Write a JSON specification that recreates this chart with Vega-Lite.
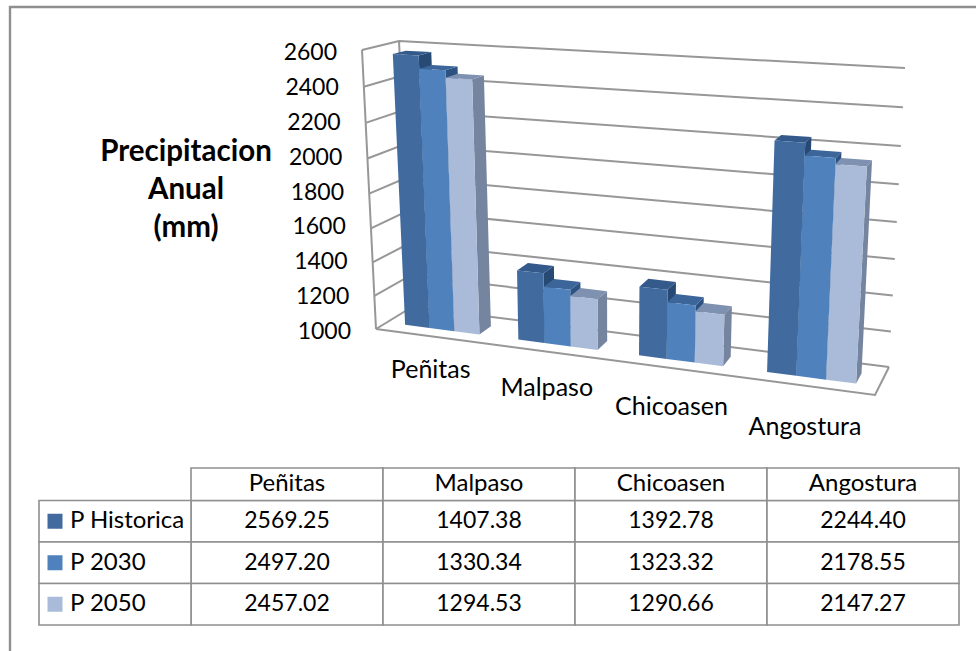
{
"$schema":"https://vega.github.io/schema/vega-lite/v6.json",
"autosize":{"type":"none"},
"padding":{"left":10,"top":7,"right":0,"bottom":0},
"width":990,"height":660,
"background":"white",
"config":{"view":{"stroke":"#8f8f8f","strokeWidth":2.4},"font":"Lato","text":{"font":"Lato"}},
"title":{"text":["Precipitacion","Anual","(mm)"],"anchor":"start","frame":"group","align":"center","baseline":"top","orient":"top","offset":0,"dx":176,"dy":236,"fontSize":29.5,"fontWeight":"bold","font":"Lato","lineHeight":38,"color":"black"},
"datasets":{
"precip":[
{"station":"Peñitas","series":"P Historica","value":2569.25},
{"station":"Malpaso","series":"P Historica","value":1407.38},
{"station":"Chicoasen","series":"P Historica","value":1392.78},
{"station":"Angostura","series":"P Historica","value":2244.40},
{"station":"Peñitas","series":"P 2030","value":2497.20},
{"station":"Malpaso","series":"P 2030","value":1330.34},
{"station":"Chicoasen","series":"P 2030","value":1323.32},
{"station":"Angostura","series":"P 2030","value":2178.55},
{"station":"Peñitas","series":"P 2050","value":2457.02},
{"station":"Malpaso","series":"P 2050","value":1294.53},
{"station":"Chicoasen","series":"P 2050","value":1290.66},
{"station":"Angostura","series":"P 2050","value":2147.27}
],
"levels":[{"level":1000},{"level":1200},{"level":1400},{"level":1600},{"level":1800},{"level":2000},{"level":2200},{"level":2400},{"level":2600}]
},
"resolve":{"scale":{"x":"independent","y":"independent","color":"independent"}},
"layer":[
{"description":"side wall and back wall gridlines",
 "data":{"name":"levels"},
 "transform":[
  {"calculate":"(datum.level-1000)/1600","as":"w0"},
  {"calculate":"datum.w0-0.06*datum.w0*(1-datum.w0)","as":"w"},
  {"calculate":"[0,1,2]","as":"k"},{"flatten":["k"]},
  {"calculate":"[0,0,1][datum.k]","as":"u"},
  {"calculate":"[0,1,1][datum.k]","as":"v"},
  {"calculate":"(1-datum.w)*((1-datum.v)*(376+499*datum.u)+datum.v*(412+477*datum.u))+datum.w*((1-datum.v)*(362+530*datum.u)+datum.v*(399+506*datum.u))","as":"px"},
  {"calculate":"(1-datum.w)*((1-datum.v)*(329+66*datum.u)+datum.v*(307+60*datum.u))+datum.w*((1-datum.v)*(50+31*datum.u)+datum.v*(41+27*datum.u))","as":"py"}
 ],
 "mark":{"type":"line","stroke":"#979797","strokeWidth":2},
 "encoding":{
  "x":{"field":"px","type":"quantitative","scale":{"domain":[10,1000],"range":[0,990],"nice":false,"zero":false},"axis":null},
  "y":{"field":"py","type":"quantitative","scale":{"domain":[7,667],"range":[0,660],"nice":false,"zero":false},"axis":null},
  "detail":{"field":"level"},"order":{"field":"k"}}
},
{"description":"floor front and right edges",
 "data":{"name":"levels"},
 "transform":[
  {"filter":"datum.level==1000"},
  {"calculate":"0","as":"w"},
  {"calculate":"[0,1,2]","as":"k"},{"flatten":["k"]},
  {"calculate":"[1,1,0][datum.k]","as":"u"},
  {"calculate":"[1,0,0][datum.k]","as":"v"},
  {"calculate":"(1-datum.w)*((1-datum.v)*(376+499*datum.u)+datum.v*(412+477*datum.u))+datum.w*((1-datum.v)*(362+530*datum.u)+datum.v*(399+506*datum.u))","as":"px"},
  {"calculate":"(1-datum.w)*((1-datum.v)*(329+66*datum.u)+datum.v*(307+60*datum.u))+datum.w*((1-datum.v)*(50+31*datum.u)+datum.v*(41+27*datum.u))","as":"py"}
 ],
 "mark":{"type":"line","stroke":"#979797","strokeWidth":2},
 "encoding":{
  "x":{"field":"px","type":"quantitative","scale":{"domain":[10,1000],"range":[0,990],"nice":false,"zero":false},"axis":null},
  "y":{"field":"py","type":"quantitative","scale":{"domain":[7,667],"range":[0,660],"nice":false,"zero":false},"axis":null},
  "order":{"field":"k"}}
},
{"description":"vertical wall edges",
 "data":{"name":"levels"},
 "transform":[
  {"calculate":"(datum.level-1000)/1600","as":"w0"},
  {"calculate":"datum.w0-0.06*datum.w0*(1-datum.w0)","as":"w"},
  {"calculate":"[0,1]","as":"v"},{"flatten":["v"]},
  {"calculate":"0","as":"u"},
  {"calculate":"(1-datum.w)*((1-datum.v)*(376+499*datum.u)+datum.v*(412+477*datum.u))+datum.w*((1-datum.v)*(362+530*datum.u)+datum.v*(399+506*datum.u))","as":"px"},
  {"calculate":"(1-datum.w)*((1-datum.v)*(329+66*datum.u)+datum.v*(307+60*datum.u))+datum.w*((1-datum.v)*(50+31*datum.u)+datum.v*(41+27*datum.u))","as":"py"}
 ],
 "mark":{"type":"line","stroke":"#979797","strokeWidth":2},
 "encoding":{
  "x":{"field":"px","type":"quantitative","scale":{"domain":[10,1000],"range":[0,990],"nice":false,"zero":false},"axis":null},
  "y":{"field":"py","type":"quantitative","scale":{"domain":[7,667],"range":[0,660],"nice":false,"zero":false},"axis":null},
  "detail":{"field":"v"},"order":{"field":"level"}}
},
{"description":"value labels along the wall edge",
 "data":{"name":"levels"},
 "transform":[
  {"calculate":"(datum.level-1000)/1600","as":"w"},
  {"calculate":"376-14*datum.w","as":"px"},
  {"calculate":"329-279*datum.w","as":"py"}
 ],
 "mark":{"type":"text","align":"right","baseline":"middle","dx":-25,"dy":3,"fontSize":23,"color":"black"},
 "encoding":{
  "x":{"field":"px","type":"quantitative","scale":{"domain":[10,1000],"range":[0,990],"nice":false,"zero":false},"axis":null},
  "y":{"field":"py","type":"quantitative","scale":{"domain":[7,667],"range":[0,660],"nice":false,"zero":false},"axis":null},
  "text":{"field":"level","type":"quantitative","format":"d"}}
},
{"description":"right faces of the bars",
 "data":{"name":"precip"},
 "transform":[
  {"calculate":"indexof(['Peñitas','Malpaso','Chicoasen','Angostura'],datum.station)","as":"i"},
  {"calculate":"indexof(['P Historica','P 2030','P 2050'],datum.series)","as":"j"},
  {"calculate":"(datum.i+0.5)/4-0.083+datum.j*0.0553+0.0553","as":"tr"},
  {"calculate":"(datum.value-1000)/1600","as":"w0"},
  {"calculate":"datum.w0-0.06*datum.w0*(1-datum.w0)","as":"wt"},
  {"calculate":"[0,1,2,3]","as":"k"},{"flatten":["k"]},
  {"calculate":"datum.tr-0.12*datum.tr*(1-datum.tr)","as":"u"},
  {"calculate":"[0.3,0.66,0.66,0.3][datum.k]","as":"v"},
  {"calculate":"[0,0,datum.wt,datum.wt][datum.k]","as":"w"},
  {"calculate":"(1-datum.w)*((1-datum.v)*(376+499*datum.u)+datum.v*(412+477*datum.u))+datum.w*((1-datum.v)*(362+530*datum.u)+datum.v*(399+506*datum.u))","as":"px"},
  {"calculate":"(1-datum.w)*((1-datum.v)*(329+66*datum.u)+datum.v*(307+60*datum.u))+datum.w*((1-datum.v)*(50+31*datum.u)+datum.v*(41+27*datum.u))","as":"py"},
  {"calculate":"datum.station+datum.series","as":"bar"}
 ],
 "mark":{"type":"line","filled":true,"interpolate":"linear-closed","strokeWidth":0},
 "encoding":{
  "x":{"field":"px","type":"quantitative","scale":{"domain":[10,1000],"range":[0,990],"nice":false,"zero":false},"axis":null},
  "y":{"field":"py","type":"quantitative","scale":{"domain":[7,667],"range":[0,660],"nice":false,"zero":false},"axis":null},
  "color":{"field":"series","type":"nominal","scale":{"domain":["P Historica","P 2030","P 2050"],"range":["#274a75","#2c5282","#76859f"]},"legend":null},
  "detail":{"field":"bar"},"order":{"field":"k"}}
},
{"description":"top faces of the bars",
 "data":{"name":"precip"},
 "transform":[
  {"calculate":"indexof(['Peñitas','Malpaso','Chicoasen','Angostura'],datum.station)","as":"i"},
  {"calculate":"indexof(['P Historica','P 2030','P 2050'],datum.series)","as":"j"},
  {"calculate":"(datum.i+0.5)/4-0.083+datum.j*0.0553","as":"tl"},
  {"calculate":"datum.tl+0.0553","as":"tr"},
  {"calculate":"(datum.value-1000)/1600","as":"w0"},
  {"calculate":"datum.w0-0.06*datum.w0*(1-datum.w0)","as":"w"},
  {"calculate":"[0,1,2,3]","as":"k"},{"flatten":["k"]},
  {"calculate":"[datum.tl,datum.tr,datum.tr,datum.tl][datum.k]","as":"t"},
  {"calculate":"datum.t-0.12*datum.t*(1-datum.t)","as":"u"},
  {"calculate":"[0.3,0.3,0.66,0.66][datum.k]","as":"v"},
  {"calculate":"(1-datum.w)*((1-datum.v)*(376+499*datum.u)+datum.v*(412+477*datum.u))+datum.w*((1-datum.v)*(362+530*datum.u)+datum.v*(399+506*datum.u))","as":"px"},
  {"calculate":"(1-datum.w)*((1-datum.v)*(329+66*datum.u)+datum.v*(307+60*datum.u))+datum.w*((1-datum.v)*(50+31*datum.u)+datum.v*(41+27*datum.u))","as":"py"},
  {"calculate":"datum.station+datum.series","as":"bar"}
 ],
 "mark":{"type":"line","filled":true,"interpolate":"linear-closed","strokeWidth":0},
 "encoding":{
  "x":{"field":"px","type":"quantitative","scale":{"domain":[10,1000],"range":[0,990],"nice":false,"zero":false},"axis":null},
  "y":{"field":"py","type":"quantitative","scale":{"domain":[7,667],"range":[0,660],"nice":false,"zero":false},"axis":null},
  "color":{"field":"series","type":"nominal","scale":{"domain":["P Historica","P 2030","P 2050"],"range":["#345a8c","#3c6599","#7f91b0"]},"legend":null},
  "detail":{"field":"bar"},"order":{"field":"k"}}
},
{"description":"front faces of the bars",
 "data":{"name":"precip"},
 "transform":[
  {"calculate":"indexof(['Peñitas','Malpaso','Chicoasen','Angostura'],datum.station)","as":"i"},
  {"calculate":"indexof(['P Historica','P 2030','P 2050'],datum.series)","as":"j"},
  {"calculate":"(datum.i+0.5)/4-0.083+datum.j*0.0553","as":"tl"},
  {"calculate":"datum.tl+0.0553","as":"tr"},
  {"calculate":"(datum.value-1000)/1600","as":"w0"},
  {"calculate":"datum.w0-0.06*datum.w0*(1-datum.w0)","as":"wt"},
  {"calculate":"[0,1,2,3]","as":"k"},{"flatten":["k"]},
  {"calculate":"[datum.tl,datum.tr,datum.tr,datum.tl][datum.k]","as":"t"},
  {"calculate":"datum.t-0.12*datum.t*(1-datum.t)","as":"u"},
  {"calculate":"0.3","as":"v"},
  {"calculate":"[0,0,datum.wt,datum.wt][datum.k]","as":"w"},
  {"calculate":"(1-datum.w)*((1-datum.v)*(376+499*datum.u)+datum.v*(412+477*datum.u))+datum.w*((1-datum.v)*(362+530*datum.u)+datum.v*(399+506*datum.u))","as":"px"},
  {"calculate":"(1-datum.w)*((1-datum.v)*(329+66*datum.u)+datum.v*(307+60*datum.u))+datum.w*((1-datum.v)*(50+31*datum.u)+datum.v*(41+27*datum.u))","as":"py"},
  {"calculate":"datum.station+datum.series","as":"bar"}
 ],
 "mark":{"type":"line","filled":true,"interpolate":"linear-closed","strokeWidth":0},
 "encoding":{
  "x":{"field":"px","type":"quantitative","scale":{"domain":[10,1000],"range":[0,990],"nice":false,"zero":false},"axis":null},
  "y":{"field":"py","type":"quantitative","scale":{"domain":[7,667],"range":[0,660],"nice":false,"zero":false},"axis":null},
  "color":{"field":"series","type":"nominal","scale":{"domain":["P Historica","P 2030","P 2050"],"range":["#416b9f","#4f81bd","#a9bbd9"]},"legend":null},
  "detail":{"field":"bar"},"order":{"field":"k"}}
},
{"description":"station names under the floor",
 "data":{"name":"precip"},
 "transform":[
  {"filter":"datum.series=='P Historica'"},
  {"calculate":"(indexof(['Peñitas','Malpaso','Chicoasen','Angostura'],datum.station)+0.5)/4","as":"t"},
  {"calculate":"datum.t-0.14*datum.t*(1-datum.t)","as":"u"},
  {"calculate":"376+499*datum.u","as":"px"},
  {"calculate":"329+66*datum.u+33+10*datum.u","as":"py"}
 ],
 "mark":{"type":"text","align":"center","baseline":"middle","fontSize":25,"color":"black"},
 "encoding":{
  "x":{"field":"px","type":"quantitative","scale":{"domain":[10,1000],"range":[0,990],"nice":false,"zero":false},"axis":null},
  "y":{"field":"py","type":"quantitative","scale":{"domain":[7,667],"range":[0,660],"nice":false,"zero":false},"axis":null},
  "text":{"field":"station"}}
},
{"description":"table body cells",
 "data":{"name":"precip"},
 "mark":{"type":"rect","fill":"white","stroke":"#8f8f8f","strokeWidth":1.6},
 "encoding":{
  "x":{"field":"station","type":"nominal","sort":["Peñitas","Malpaso","Chicoasen","Angostura"],"scale":{"range":[181,949]},"axis":null},
  "y":{"field":"series","type":"nominal","sort":["P Historica","P 2030","P 2050"],"scale":{"range":[493.5,618]},"axis":null}}
},
{"description":"table body values",
 "data":{"name":"precip"},
 "mark":{"type":"text","align":"center","baseline":"middle","fontSize":23,"color":"black"},
 "encoding":{
  "x":{"field":"station","type":"nominal","sort":["Peñitas","Malpaso","Chicoasen","Angostura"],"scale":{"range":[181,949]},"axis":null},
  "y":{"field":"series","type":"nominal","sort":["P Historica","P 2030","P 2050"],"scale":{"range":[493.5,618]},"axis":null},
  "text":{"field":"value","type":"quantitative","format":".2f"}}
},
{"description":"table header cells",
 "data":{"name":"precip"},
 "transform":[{"filter":"datum.series=='P Historica'"},{"calculate":"'header'","as":"row"}],
 "mark":{"type":"rect","fill":"white","stroke":"#8f8f8f","strokeWidth":1.6},
 "encoding":{
  "x":{"field":"station","type":"nominal","sort":["Peñitas","Malpaso","Chicoasen","Angostura"],"scale":{"range":[181,949]},"axis":null},
  "y":{"field":"row","type":"nominal","scale":{"range":[461,493.5]},"axis":null}}
},
{"description":"table header names",
 "data":{"name":"precip"},
 "transform":[{"filter":"datum.series=='P Historica'"},{"calculate":"'header'","as":"row"}],
 "mark":{"type":"text","align":"center","baseline":"middle","fontSize":24,"color":"black"},
 "encoding":{
  "x":{"field":"station","type":"nominal","sort":["Peñitas","Malpaso","Chicoasen","Angostura"],"scale":{"range":[181,949]},"axis":null},
  "y":{"field":"row","type":"nominal","scale":{"range":[461,493.5]},"axis":null},
  "text":{"field":"station"}}
},
{"description":"legend key cells in the first table column",
 "data":{"name":"precip"},
 "transform":[{"filter":"datum.station=='Peñitas'"},{"calculate":"'key'","as":"col"}],
 "mark":{"type":"rect","fill":"white","stroke":"#8f8f8f","strokeWidth":1.6},
 "encoding":{
  "x":{"field":"col","type":"nominal","scale":{"range":[29,181]},"axis":null},
  "y":{"field":"series","type":"nominal","sort":["P Historica","P 2030","P 2050"],"scale":{"range":[493.5,618]},"axis":null}}
},
{"description":"legend key swatches",
 "data":{"name":"precip"},
 "transform":[{"filter":"datum.station=='Peñitas'"},{"calculate":"'key'","as":"col"}],
 "mark":{"type":"square","size":225,"opacity":1,"filled":true,"xOffset":-60},
 "encoding":{
  "x":{"field":"col","type":"nominal","scale":{"range":[29,181]},"axis":null},
  "y":{"field":"series","type":"nominal","sort":["P Historica","P 2030","P 2050"],"scale":{"range":[493.5,618]},"axis":null},
  "color":{"field":"series","type":"nominal","scale":{"domain":["P Historica","P 2030","P 2050"],"range":["#416b9f","#4f81bd","#a9bbd9"]},"legend":null}}
},
{"description":"legend key names",
 "data":{"name":"precip"},
 "transform":[{"filter":"datum.station=='Peñitas'"},{"calculate":"'key'","as":"col"}],
 "mark":{"type":"text","align":"left","baseline":"middle","fontSize":24,"dx":-45,"color":"black"},
 "encoding":{
  "x":{"field":"col","type":"nominal","scale":{"range":[29,181]},"axis":null},
  "y":{"field":"series","type":"nominal","sort":["P Historica","P 2030","P 2050"],"scale":{"range":[493.5,618]},"axis":null},
  "text":{"field":"series"}}
}
]
}
